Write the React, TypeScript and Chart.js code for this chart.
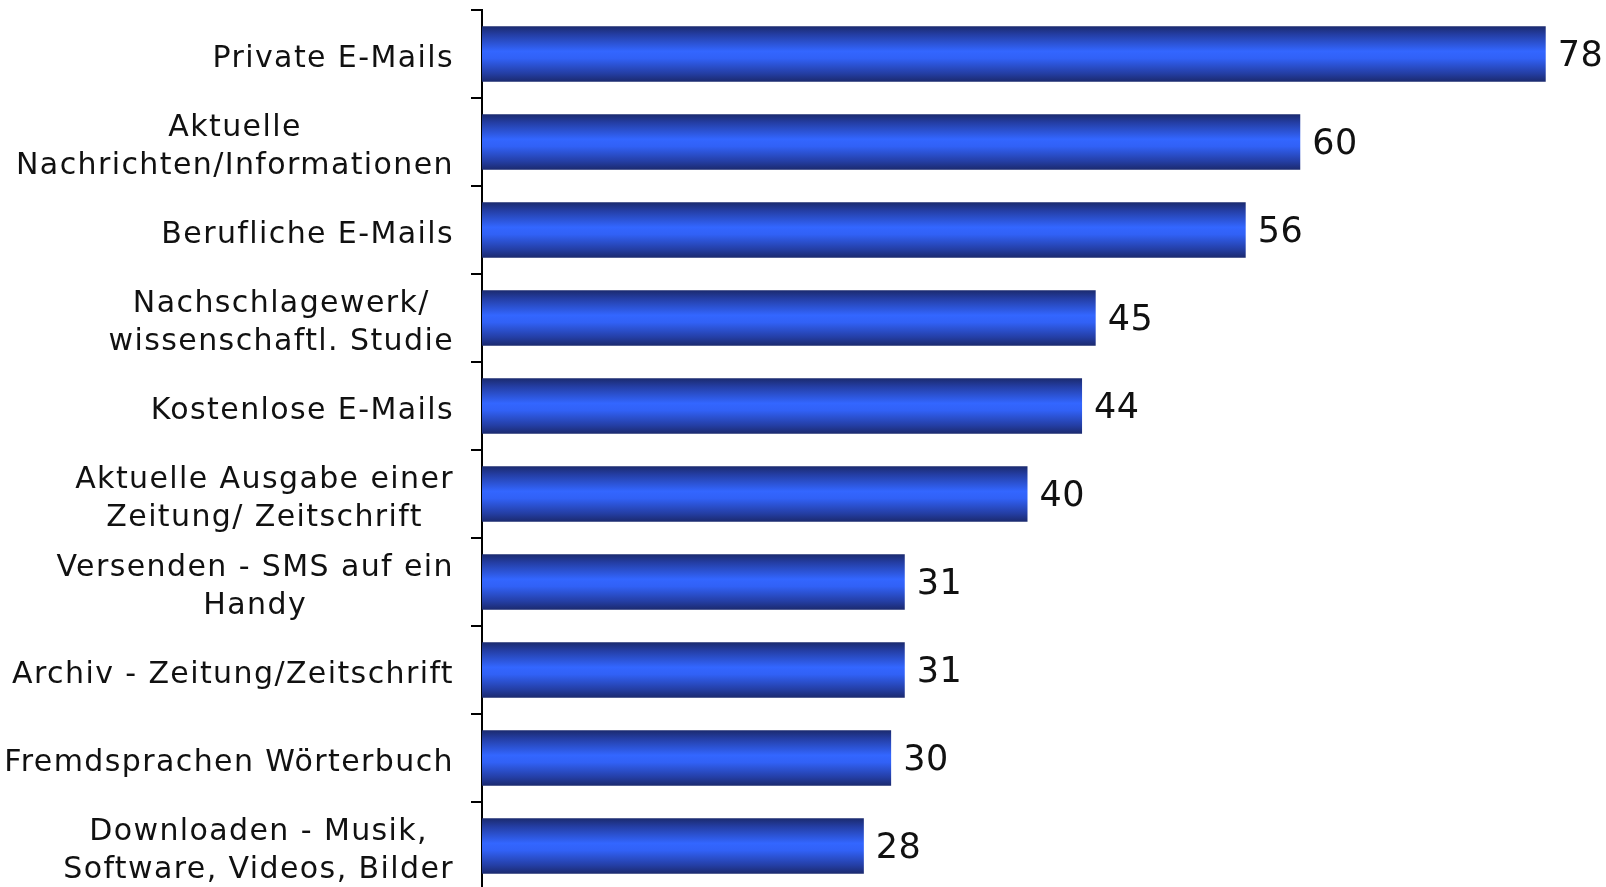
import React, { useEffect, useRef } from "react";
import { Chart, registerables } from "chart.js";

Chart.register(...registerables);

const categories: string[][] = [
  ["Private E-Mails"],
  ["Aktuelle", "Nachrichten/Informationen"],
  ["Berufliche E-Mails"],
  ["Nachschlagewerk/", "wissenschaftl. Studie"],
  ["Kostenlose E-Mails"],
  ["Aktuelle Ausgabe einer", "Zeitung/ Zeitschrift"],
  ["Versenden - SMS auf ein", "Handy"],
  ["Archiv - Zeitung/Zeitschrift"],
  ["Fremdsprachen Wörterbuch"],
  ["Downloaden - Musik,", "Software, Videos, Bilder"],
];

const values: number[] = [78, 60, 56, 45, 44, 40, 31, 31, 30, 28];

const FONT = '"DejaVu Sans", Verdana, sans-serif';
const BAR_PCT = 0.63;

export default function App() {
  const ref = useRef<HTMLCanvasElement | null>(null);

  useEffect(() => {
    if (!ref.current) return;

    const labelPlugin = {
      id: "customLabels",
      afterDraw(chart: any) {
        const ctx = chart.ctx as CanvasRenderingContext2D;
        const y = chart.scales.y;
        const x = chart.scales.x;
        ctx.save();
        ctx.font = `30px ${FONT}`;
        (ctx as any).letterSpacing = "1.4px";
        ctx.fillStyle = "#111";
        ctx.textBaseline = "middle";
        ctx.textAlign = "center";
        const right = 454;
        const lh = 38;
        categories.forEach((lines, i) => {
          const cy = y.getPixelForValue(i) + 5;
          const w = Math.max(...lines.map((l) => ctx.measureText(l).width));
          const cx = right - w / 2;
          const top = cy - ((lines.length - 1) * lh) / 2;
          lines.forEach((l, k) => ctx.fillText(l, cx, top + k * lh));
        });
        (ctx as any).letterSpacing = "0.5px";
        ctx.font = `35px ${FONT}`;
        ctx.textAlign = "left";
        const meta = chart.getDatasetMeta(0);
        meta.data.forEach((bar: any, i: number) => {
          ctx.fillText(String(values[i]), x.getPixelForValue(values[i]) + 12, bar.y + 3);
        });
        ctx.restore();
      },
    };

    const chart = new Chart(ref.current, {
      type: "bar",
      data: {
        labels: categories,
        datasets: [
          {
            data: values,
            barPercentage: BAR_PCT,
            categoryPercentage: 1,
            backgroundColor: (c: any) => {
              const chart = c.chart;
              const ys = chart.scales?.y;
              if (!ys || c.dataIndex == null) return "#2f5ff0";
              const center = ys.getPixelForValue(c.dataIndex);
              const step = Math.abs(ys.getPixelForValue(1) - ys.getPixelForValue(0));
              const h = (step * BAR_PCT) / 2;
              if (!isFinite(center) || !isFinite(h) || h <= 0) return "#2f5ff0";
              const g = chart.ctx.createLinearGradient(0, center - h, 0, center + h);
              g.addColorStop(0, "#1b2a6e");
              g.addColorStop(0.15, "#243ea4");
              g.addColorStop(0.45, "#3366ff");
              g.addColorStop(0.58, "#3161f6");
              g.addColorStop(0.85, "#243ea4");
              g.addColorStop(1, "#1b2a6e");
              return g;
            },
            borderWidth: 0,
          },
        ],
      },
      options: {
        indexAxis: "y",
        responsive: false,
        animation: false,
        devicePixelRatio: 1,
        layout: { padding: { top: 10, bottom: 10, right: 33, left: 0 } },
        plugins: {
          legend: { display: false },
          tooltip: { enabled: false },
        },
        scales: {
          x: {
            display: false,
            min: 0,
            max: 80,
          },
          y: {
            ticks: { display: false },
            grid: {
              display: true,
              drawOnChartArea: false,
              drawTicks: true,
              tickLength: 11,
              color: "#000",
              lineWidth: 2,
              offset: true,
            },
            border: { display: true, color: "#000", width: 2 },
            afterFit: (scale: any) => {
              scale.width = 482;
            },
          },
        },
      },
      plugins: [labelPlugin],
    });

    return () => chart.destroy();
  }, []);

  return (
    <div
      style={{
        position: "absolute",
        top: 0,
        left: 0,
        width: 1606,
        height: 887,
        overflow: "hidden",
        background: "#fff",
      }}
    >
      <canvas ref={ref} width={1606} height={900} style={{ display: "block" }} />
    </div>
  );
}
